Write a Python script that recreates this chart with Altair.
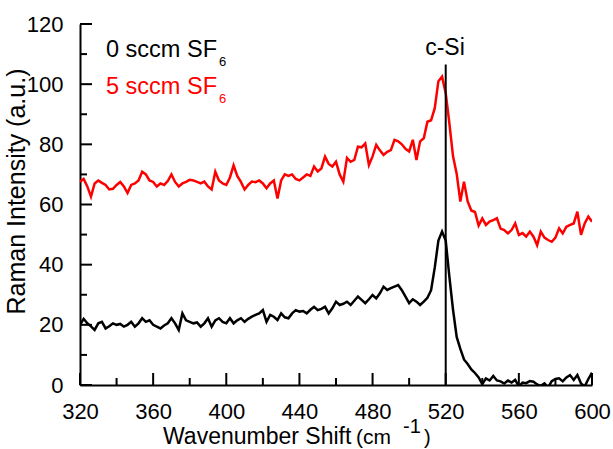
import altair as alt
import pandas as pd

# ---------------- data ----------------
wavenumber = list(range(320, 601, 2))

sccm0 = [
    20, 22, 20.5, 19.5, 18.3, 20.5, 21, 18.8, 19.5, 20.5,
    20, 20.3, 19.4, 20, 21, 19.4, 20.5, 22.2, 21, 21.5,
    20, 19.4, 18.8, 19.8, 20.5, 22.2, 20.5, 18.3, 23.8, 21.5,
    21, 20.5, 20.8, 19.4, 20.5, 22.2, 19.4, 21.5, 22.2, 21,
    20.5, 22.2, 20.5, 21.5, 22.2, 21, 22, 22.7, 23.3, 23.8,
    24.9, 21, 23.3, 22.7, 21.6, 23.8, 22.5, 22.2, 23.8, 24.9,
    24.4, 24.6, 23.8, 25, 26, 24.9, 25.3, 26, 23.8, 25.5,
    27.7, 26.6, 27, 27.7, 26.6, 28, 29.4, 28.3, 27.2, 28.5,
    29.9, 28.8, 30.5, 32.7, 31.6, 32.2, 32.7, 33.2, 31.5, 29.4,
    27.2, 28.5, 27.7, 26.6, 27.7, 29, 31.5, 39, 48, 51,
    48, 36, 25, 16, 12, 8.5, 7, 5.2, 4, 2.5,
    0.3, 2.2, 1.5, 3, 1.5, 1.2, 0.5, 1.5, 0.8, 1.7,
    -0.5, 0.8, 0.6, 1.3, 1.1, 0.2, -0.3, 0.5, -0.8, 1.3,
    2, 2.2, 1.2, 2.5, 3.3, 1.7, 3.3, 0.5, -0.5, 2,
    4.1,
]

sccm5 = [
    67.6, 68.5, 66, 62.6, 67, 68, 67.2, 66.5, 65, 65.2,
    66.5, 67.5, 66, 63.8, 66.5, 67, 68, 70.9, 70, 68,
    67.5, 66, 67, 66.5, 67.8, 70, 67.5, 66, 67, 67.5,
    68.2, 68, 67.5, 67, 67.6, 66, 65, 70.9, 68, 67,
    66.5, 69, 73, 69.5, 67.5, 65, 66.5, 67.6, 67.4, 68,
    67, 65.4, 67, 68, 62, 68, 70, 69.5, 70, 68.5,
    68, 69, 70, 69.5, 72.6, 71, 72, 75.9, 73.5, 72.6,
    74.2, 70, 67.6, 75.5, 74.2, 74.8, 79.2, 79, 80.3, 73.1,
    76, 79.8, 78, 76.5, 77.5, 78.1, 81.5, 81, 80, 78.5,
    77.6, 81.5, 74.8, 81, 82, 87.5, 88, 92, 101, 102.5,
    97, 87, 76, 70.2, 61, 67.6, 61, 58, 57.5, 53,
    55.4, 53.2, 54.3, 54.8, 55.4, 52, 51.5, 50.4, 51.5, 53.7,
    49.9, 50.5, 49.3, 51, 49.3, 46.5, 51, 49, 48.2, 47.6,
    49, 52.1, 50.4, 52.6, 53.2, 53.7, 57.6, 49.9, 53.7, 56,
    54.3,
]

x_major = [320, 360, 400, 440, 480, 520, 560, 600]
x_minor = [340, 380, 420, 460, 500, 540, 580]
y_major = [0, 20, 40, 60, 80, 100, 120]
y_minor = [10, 30, 50, 70, 90, 110]

csi_position = 520
csi_top = 106.5

W, H = 512, 361
FONT = "Liberation Sans"

df0 = pd.DataFrame({"x": wavenumber, "y": sccm0})
df5 = pd.DataFrame({"x": wavenumber, "y": sccm5})

xscale = alt.Scale(domain=[320, 600], nice=False, zero=False)
yscale = alt.Scale(domain=[0, 120], nice=False)

xaxis = alt.Axis(values=x_major, grid=False, ticks=False, tickSize=0,
                 labelFontSize=22, labelFont=FONT, labelColor="black",
                 labelPadding=16, labelFlush=False, labelOverlap=False,
                 domainColor="black", domainWidth=2)
yaxis = alt.Axis(values=y_major, grid=False, ticks=False, tickSize=0,
                 labelFontSize=22, labelFont=FONT, labelColor="black",
                 labelPadding=17, labelOverlap=False, labelFlush=False,
                 domainColor="black", domainWidth=2,
                 titleFontSize=25, titleFont=FONT, titleFontWeight="normal",
                 titleColor="black", titleX=-56, titleY=167,
                 titleBaseline="alphabetic")

X = alt.X("x:Q", scale=xscale, axis=xaxis, title=None)
Y = alt.Y("y:Q", scale=yscale, axis=yaxis, title="Raman Intensity (a.u.)")

line0 = alt.Chart(df0).mark_line(color="black", strokeWidth=2.5, clip=True).encode(x=X, y=Y)
line5 = alt.Chart(df5).mark_line(color="#ff0000", strokeWidth=2.5, clip=True).encode(x=X, y=Y)

csi = alt.Chart(pd.DataFrame({"x": [csi_position], "y": [0], "y2": [csi_top]})).mark_rule(
    color="black", strokeWidth=2).encode(x=X, y=Y, y2="y2:Q")

xmaj = alt.Chart(pd.DataFrame({"x": x_major})).mark_rule(color="black", strokeWidth=2).encode(
    x=X, y=alt.value(H), y2=alt.value(H - 12))
xmin = alt.Chart(pd.DataFrame({"x": x_minor})).mark_rule(color="black", strokeWidth=2).encode(
    x=X, y=alt.value(H), y2=alt.value(H - 7))
ymaj = alt.Chart(pd.DataFrame({"y": y_major})).mark_rule(color="black", strokeWidth=2).encode(
    y=Y, x=alt.value(0), x2=alt.value(12))
ymin = alt.Chart(pd.DataFrame({"y": y_minor})).mark_rule(color="black", strokeWidth=2).encode(
    y=Y, x=alt.value(0), x2=alt.value(7))


def label(text, x, y, size, color="black", align="left"):
    return alt.Chart(pd.DataFrame({"t": [text]})).mark_text(
        align=align, baseline="alphabetic", font=FONT, fontSize=size, color=color
    ).encode(text="t:N", x=alt.value(x), y=alt.value(y))


texts = [
    label("0 sccm SF", 26, 33, 23.5),
    label("6", 139, 42, 13),
    label("5 sccm SF", 26, 70, 23.5, "#ff0000"),
    label("6", 139, 79, 13, "#ff0000"),
    label("c-Si", 365, 31, 23, align="center"),
    label("Wavenumber Shift", 83, 420, 23),
    label("(cm", 276, 420, 21),
    label("-1", 323, 409, 20),
    label(")", 344, 420, 20),
]

chart = alt.layer(line0, line5, csi, xmaj, xmin, ymaj, ymin, *texts).properties(
    width=W, height=H,
    autosize=alt.AutoSizeParams(type="none"),
    padding={"left": 80, "top": 24, "right": 21, "bottom": 64},
    background="white",
).configure_view(strokeWidth=0)

chart.save("out.html", embed_options={"renderer": "svg", "actions": False})
